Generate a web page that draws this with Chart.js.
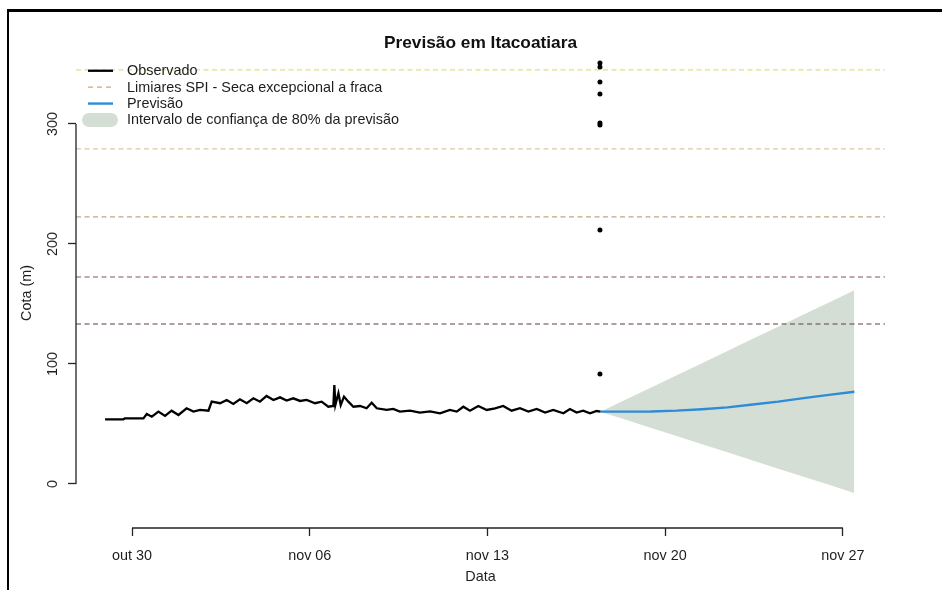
<!DOCTYPE html>
<html>
<head>
<meta charset="utf-8">
<title>Previsão em Itacoatiara</title>
<script src="https://cdn.jsdelivr.net/npm/chart.js@4.4.1/dist/chart.umd.min.js"></script>
<style>
body { margin: 0; background: #fff; }
#wrap { position: relative; width: 942px; height: 590px; overflow: hidden; }
#frame { position: absolute; left: 7px; top: 9px; right: -10px; bottom: -10px; border-top: 3px solid #000; border-left: 2px solid #000; pointer-events: none; }
</style>
</head>
<body>
<div id="wrap">
<canvas id="grafico" width="942" height="590"></canvas>
<div id="frame"></div>
</div>
<script>
// dias contados a partir de 30/out 00h
const tickDays = [0, 7, 14, 21, 28];
const tickLabels = ['out 30', 'nov 06', 'nov 13', 'nov 20', 'nov 27'];
const yTicks = [0, 100, 200, 300];

// cota observada
const obsDays = [-1.06, -0.34, -0.28, 0.45, 0.58, 0.78, 1.04, 1.30, 1.56, 1.83, 2.15, 2.42, 2.68, 3.01,
  3.14, 3.47, 3.73, 3.99, 4.25, 4.52, 4.78, 5.04, 5.30, 5.57, 5.83, 6.09, 6.35, 6.62, 6.88,
  7.21, 7.47, 7.73, 7.93, 7.97, 8.01, 8.13, 8.22, 8.35, 8.52, 8.72, 8.98, 9.24, 9.44, 9.64,
  10.03, 10.29, 10.55, 10.95, 11.34, 11.74, 12.13, 12.52, 12.79, 13.05, 13.31, 13.64, 13.97,
  14.30, 14.62, 14.95, 15.28, 15.61, 15.94, 16.27, 16.59, 16.99, 17.25, 17.51, 17.77, 18.04,
  18.30, 18.45];
const obsCota = [53.9, 53.9, 54.7, 54.7, 58.3, 56.1, 60.3, 56.7, 61.1, 57.5, 63.1, 60.3, 61.7, 61.1,
  68.6, 67.3, 70.0, 66.7, 70.6, 67.3, 71.4, 68.6, 73.4, 70.0, 72.2, 69.5, 71.4, 69.2, 70.0,
  67.3, 68.6, 64.4, 65.0, 82.5, 65.8, 75.6, 65.8, 72.8, 68.6, 64.4, 65.0, 63.1, 67.7, 63.1,
  61.7, 62.5, 60.3, 61.1, 59.5, 60.5, 58.9, 61.7, 60.3, 64.4, 61.1, 65.0, 61.7,
  63.1, 65.0, 61.1, 63.1, 60.3, 62.5, 59.5, 61.7, 58.9, 62.5, 59.5, 61.1, 58.9,
  60.8, 60.3];

// previsao e intervalo de 80%
const prevDays = [18.45, 19.45, 20.45, 21.45, 22.45, 23.45, 24.45, 25.45, 26.45, 27.45, 28.45];
const prevCota = [60.3, 60.3, 60.4, 61.1, 62.3, 63.8, 66.2, 68.6, 71.5, 74.3, 76.9];
const prevSup = [60.3, 70.4, 80.5, 90.6, 100.7, 110.9, 121.0, 131.1, 141.2, 151.3, 161.5];
const prevInf = [60.3, 53.5, 46.7, 39.9, 33.1, 26.4, 19.6, 12.8, 6.0, -0.7, -7.5];

// pontos isolados no ultimo dia observado
const pontoDias = [18.43, 18.43, 18.43, 18.43, 18.43, 18.43, 18.43, 18.43];
const pontoCota = [350.8, 347.5, 335.0, 325.0, 300.8, 299.2, 211.7, 91.7];

// limiares SPI
const limiares = [345.0, 279.2, 222.5, 172.5, 133.3];
const limiarCores = ['#e6df78', '#d9c8a2', '#c9a47c', '#8a5054', '#5e3e40'];

const legendTexts = ['Observado', 'Limiares SPI - Seca excepcional a fraca', 'Previsão',
  'Intervalo de confiança de 80% da previsão'];

const X_MIN = -2.2056, X_MAX = 29.657;
const Y_MIN = -36.67, Y_MAX = 355;
const FONT = '"Liberation Sans", Arial, sans-serif';
const TXT = '#1e1e1e';
const BAND = '#d5ded4';
const BLUE = '#2e8bd6';

const toXY = (xs, ys) => xs.map((x, i) => ({x: x, y: ys[i]}));

const datasets = [];
datasets.push({label: 'sup', data: toXY(prevDays, prevSup), borderWidth: 0, pointRadius: 0,
  fill: '+1', backgroundColor: BAND, order: 10});
datasets.push({label: 'inf', data: toXY(prevDays, prevInf), borderWidth: 0, pointRadius: 0,
  fill: false, order: 10});
limiares.forEach((v, i) => {
  datasets.push({label: 'lim' + i, data: [{x: X_MIN, y: v}, {x: X_MAX, y: v}],
    borderColor: limiarCores[i], borderWidth: 1.2, borderDash: [5, 3.5], pointRadius: 0,
    fill: false, order: 5});
});
datasets.push({label: 'Previsão', data: toXY(prevDays, prevCota), borderColor: BLUE,
  borderWidth: 2.4, pointRadius: 0, fill: false, order: 3});
datasets.push({label: 'Observado', data: toXY(obsDays, obsCota), borderColor: '#000',
  borderWidth: 2.3, pointRadius: 0, fill: false, order: 2});
datasets.push({label: 'pontos', data: toXY(pontoDias, pontoCota), showLine: false,
  pointRadius: 2.5, pointBackgroundColor: '#000', pointBorderWidth: 0, order: 1});

// eixos no estilo do R: linha so entre o primeiro e o ultimo tick, rotulos y girados
const eixosR = {
  id: 'eixosR',
  afterDraw(chart) {
    const {ctx, chartArea, scales: {x, y}} = chart;
    ctx.save();
    ctx.strokeStyle = '#222';
    ctx.lineWidth = 1.3;
    ctx.beginPath();
    ctx.moveTo(x.getPixelForValue(tickDays[0]), chartArea.bottom);
    ctx.lineTo(x.getPixelForValue(tickDays[tickDays.length - 1]), chartArea.bottom);
    ctx.stroke();
    ctx.beginPath();
    ctx.moveTo(chartArea.left, y.getPixelForValue(yTicks[0]));
    ctx.lineTo(chartArea.left, y.getPixelForValue(yTicks[yTicks.length - 1]));
    ctx.stroke();
    ctx.fillStyle = TXT;
    ctx.font = '14.4px ' + FONT;
    ctx.textAlign = 'center';
    ctx.textBaseline = 'middle';
    yTicks.forEach(v => {
      ctx.save();
      ctx.translate(chartArea.left - 23, y.getPixelForValue(v));
      ctx.rotate(-Math.PI / 2);
      ctx.fillText(String(v), 0, 0);
      ctx.restore();
    });
    ctx.restore();
  }
};

// legenda topleft sem caixa
const legendaR = {
  id: 'legendaR',
  afterDatasetsDraw(chart) {
    const {ctx, chartArea} = chart;
    const x0 = chartArea.left + 12, x1 = x0 + 25;
    const rows = [0, 1, 2, 3].map(i => chartArea.top + 12.8 + i * 16.4);
    ctx.save();
    ctx.lineCap = 'butt';
    ctx.strokeStyle = '#000'; ctx.lineWidth = 2.3;
    ctx.beginPath(); ctx.moveTo(x0, rows[0]); ctx.lineTo(x1, rows[0]); ctx.stroke();
    ctx.strokeStyle = '#cfa678'; ctx.lineWidth = 1.2; ctx.setLineDash([5, 4]);
    ctx.beginPath(); ctx.moveTo(x0, rows[1]); ctx.lineTo(x1, rows[1]); ctx.stroke();
    ctx.setLineDash([]);
    ctx.strokeStyle = BLUE; ctx.lineWidth = 2.4;
    ctx.beginPath(); ctx.moveTo(x0, rows[2]); ctx.lineTo(x1, rows[2]); ctx.stroke();
    ctx.strokeStyle = BAND; ctx.lineWidth = 14; ctx.lineCap = 'round';
    ctx.beginPath(); ctx.moveTo(x0 + 1, rows[3]); ctx.lineTo(x1 - 2, rows[3]); ctx.stroke();
    ctx.fillStyle = TXT;
    ctx.font = '14.4px ' + FONT;
    ctx.textAlign = 'left';
    ctx.textBaseline = 'middle';
    legendTexts.forEach((t, i) => ctx.fillText(t, x1 + 14, rows[i] + 0.5));
    ctx.restore();
  }
};

new Chart(document.getElementById('grafico'), {
  type: 'line',
  data: {datasets: datasets},
  options: {
    responsive: false,
    animation: false,
    devicePixelRatio: 1,
    layout: {padding: {left: 0, right: 57, top: 0, bottom: 0}},
    plugins: {
      legend: {display: false},
      tooltip: {enabled: false},
      title: {
        display: true, text: 'Previsão em Itacoatiara', fullSize: false, color: '#111',
        font: {family: FONT, size: 17.3, weight: 'bold', lineHeight: 1.2},
        padding: {top: 32.6, bottom: 4.6}
      }
    },
    scales: {
      x: {
        type: 'linear', min: X_MIN, max: X_MAX,
        afterBuildTicks: s => { s.ticks = tickDays.map(v => ({value: v})); },
        afterFit: s => { s.height = 62; },
        border: {display: false},
        grid: {drawOnChartArea: false, drawTicks: true, tickLength: 8, tickColor: '#222', tickWidth: 1.3},
        ticks: {
          autoSkip: false, maxRotation: 0, padding: 11, color: TXT,
          font: {family: FONT, size: 14.4},
          callback: v => tickLabels[tickDays.indexOf(v)]
        },
        title: {display: true, text: 'Data', color: TXT, font: {family: FONT, size: 14.4},
          padding: {top: 0, bottom: 4.5}}
      },
      y: {
        type: 'linear', min: Y_MIN, max: Y_MAX,
        afterBuildTicks: s => { s.ticks = yTicks.map(v => ({value: v})); },
        afterFit: s => { s.width = 76; },
        border: {display: false},
        grid: {drawOnChartArea: false, drawTicks: true, tickLength: 8, tickColor: '#222', tickWidth: 1.3},
        ticks: {display: false},
        title: {display: true, text: 'Cota (m)', color: TXT, font: {family: FONT, size: 14.4},
          padding: {top: 18.4, bottom: 0}}
      }
    }
  },
  plugins: [eixosR, legendaR]
});
</script>
</body>
</html>
